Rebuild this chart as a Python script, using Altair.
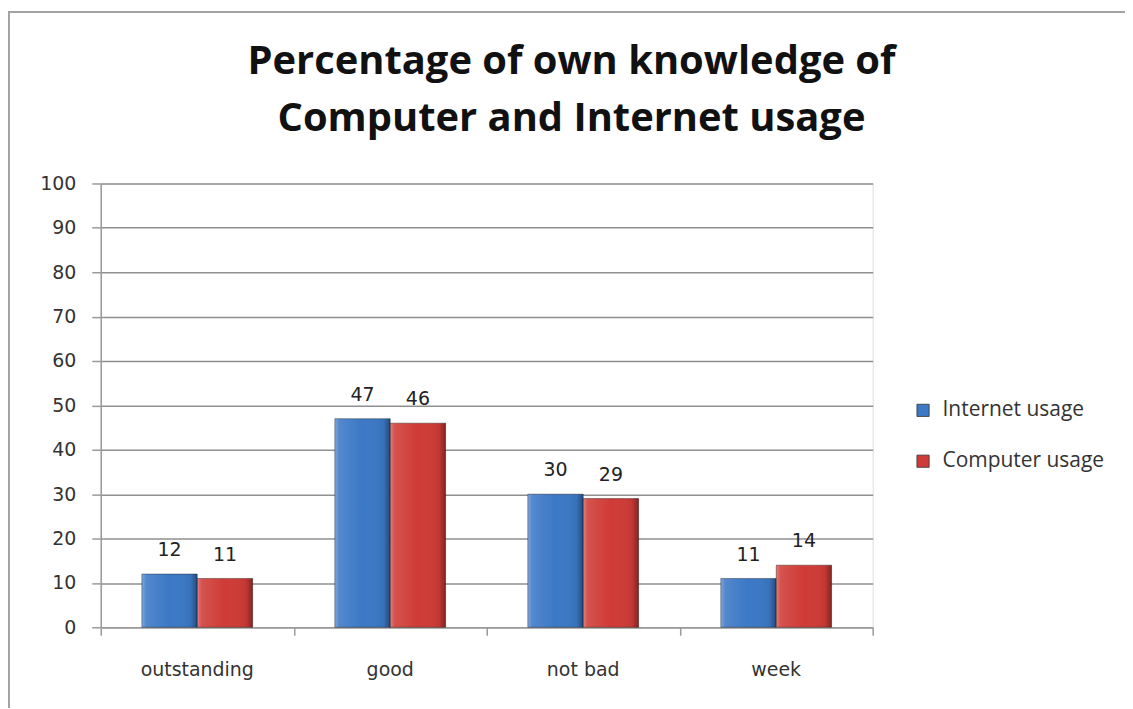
import altair as alt
import pandas as pd

categories = ["outstanding", "good", "not bad", "week"]
series = ["Internet usage", "Computer usage"]
internet = [12, 47, 30, 11]
computer = [11, 46, 29, 14]
colors = ["#3b78c6", "#cf3b36"]
y_ticks = [0, 10, 20, 30, 40, 50, 60, 70, 80, 90, 100]
title_lines = ["Percentage of own knowledge of", "Computer and Internet usage"]

rows = []
for c, a, b in zip(categories, internet, computer):
    rows.append({"category": c, "series": series[0], "value": a})
    rows.append({"category": c, "series": series[1], "value": b})
df = pd.DataFrame(rows)

xenc = alt.X(
    "category:N",
    sort=categories,
    scale=alt.Scale(paddingInner=0.426, paddingOuter=0.213),
    axis=alt.Axis(
        title=None, ticks=False, labelAngle=0, labelFont="DejaVu Sans",
        labelFontSize=19, labelColor="#333333", labelPadding=33,
        domainColor="#9a9a9a", domainWidth=1.5, grid=False, orient="bottom",
    ),
)
xoff = alt.XOffset("series:N", sort=series, scale=alt.Scale(domain=series))
yenc = alt.Y(
    "value:Q",
    scale=alt.Scale(domain=[0, 100], nice=False),
    axis=alt.Axis(
        title=None, values=y_ticks, labelFont="DejaVu Sans", labelFontSize=19,
        labelColor="#333333", labelPadding=16, tickSize=9, tickColor="#9a9a9a",
        tickWidth=1.5, domainColor="#9a9a9a", domainWidth=1.5,
        gridColor="#8f8f8f", gridWidth=1.5,
    ),
)

bars = alt.Chart(df).mark_bar().encode(
    x=xenc, xOffset=xoff, y=yenc,
    color=alt.Color(
        "series:N", sort=series,
        scale=alt.Scale(domain=series, range=colors),
        legend=alt.Legend(
            title=None, orient="none", legendX=814, legendY=217,
            labelFont="Open Sans", labelFontSize=21, labelColor="#333333",
            labelLimit=0,
            symbolType="square", symbolSize=150, symbolStrokeColor="#333333",
            symbolStrokeWidth=0.8, rowPadding=29, labelOffset=9, padding=0,
        ),
    ),
)

grad = alt.LinearGradient(
    gradient="linear", x1=0, y1=0, x2=1, y2=0,
    stops=[
        alt.GradientStop(offset=0, color="rgba(255,255,255,0.35)"),
        alt.GradientStop(offset=0.08, color="rgba(255,255,255,0.12)"),
        alt.GradientStop(offset=0.5, color="rgba(255,255,255,0)"),
        alt.GradientStop(offset=0.88, color="rgba(0,0,0,0.06)"),
        alt.GradientStop(offset=1, color="rgba(0,0,0,0.38)"),
    ],
)
overlay = alt.Chart(df).mark_bar(
    color=grad, stroke="rgba(0,0,0,0.35)", strokeWidth=1
).encode(x=xenc, xOffset=xoff, y=yenc)

labels = alt.Chart(df).mark_text(
    baseline="alphabetic", dy=-18, font="DejaVu Sans", fontSize=19, color="#222222"
).encode(x=xenc, xOffset=xoff, y=yenc, text="value:Q")

inner = alt.layer(bars, overlay, labels)

tick_df = pd.DataFrame({"t": [0, 4]})
ticks = alt.Chart(tick_df).mark_point(opacity=0).encode(
    x=alt.X(
        "t:Q",
        scale=alt.Scale(domain=[0, 4], nice=False, zero=False),
        axis=alt.Axis(
            values=[0, 1, 2, 3, 4], labels=False, domain=False, grid=False,
            ticks=True, tickSize=8, tickColor="#9a9a9a", tickWidth=1.5,
            orient="bottom", title=None,
        ),
    )
)

border = alt.Chart(pd.DataFrame({"a": [0]})).mark_rect(
    fill="transparent", stroke="#a3a3a3", strokeWidth=2
).encode(
    x=alt.value(-92), x2=alt.value(1400), y=alt.value(-172), y2=alt.value(1400)
)

chart = alt.layer(border, inner, ticks).resolve_scale(x="independent").properties(
    width=774, height=445,
    autosize=alt.AutoSizeParams(type="none"),
    padding={"left": 93, "top": 175, "right": 253, "bottom": 80},
    title=alt.TitleParams(
        text=title_lines, font="Open Sans", fontSize=40, fontWeight="bold",
        color="#111111", lineHeight=57, anchor="middle", frame="group",
        dx=85, offset=-128,
    ),
).configure_view(stroke=None).configure(background="white")

chart.save("out.html", embed_options={"renderer": "svg", "actions": False})
